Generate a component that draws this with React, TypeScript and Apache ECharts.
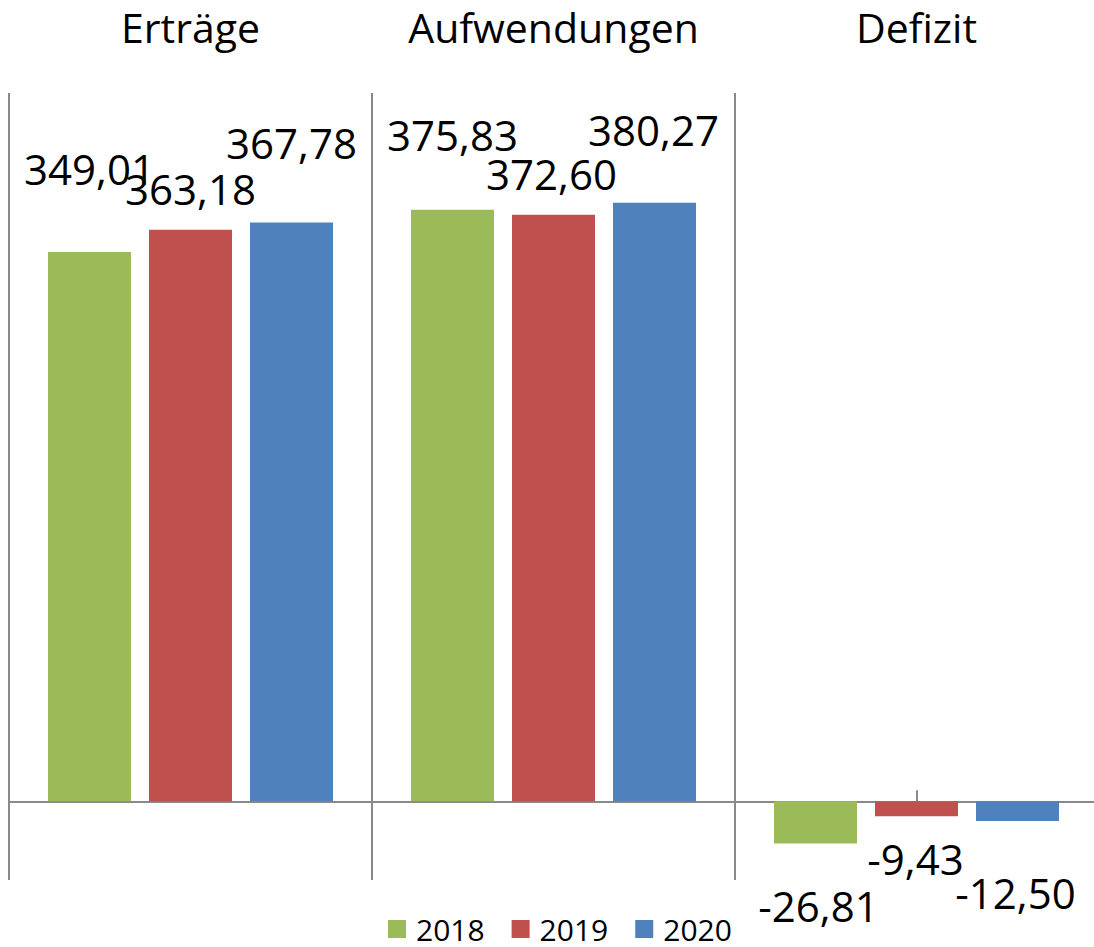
import React, { useEffect, useRef } from "react";
import * as echarts from "echarts";

const categories = ["Erträge", "Aufwendungen", "Defizit"];
const years = ["2018", "2019", "2020"];
const values2018 = [349.01, 375.83, -26.81];
const values2019 = [363.18, 372.6, -9.43];
const values2020 = [367.78, 380.27, -12.5];
const seriesValues = [values2018, values2019, values2020];
const colors = ["#9BBB59", "#C0504D", "#4F81BD"];
// manual label offsets [dx, dy] per series, per category
const labelOffsets = [
  [[0, -83], [0, -75], [3, 62]],
  [[0, -41], [-2, -41], [-1, 42]],
  [[0, -80], [-1, -73], [-2, 72]],
];

const FONT = "'Open Sans', 'Noto Sans', sans-serif";
const GRAY = "#898989";
// square legend marker with a blank strip on its right (extra gap before the text)
const LEGEND_ICON = "path://M0,0L18,0L18,18L0,18Z M23,0L23,0.01";

export default function App() {
  const ref = useRef<HTMLDivElement>(null);
  useEffect(() => {
    if (!ref.current) return;
    const chart = echarts.init(ref.current, undefined, { renderer: "svg" });
    const series = years.map((y, si) => ({
      name: y,
      type: "bar",
      xAxisIndex: 0,
      barWidth: 83,
      barGap: "21.7%",
      itemStyle: { color: colors[si] },
      emphasis: { disabled: true },
      label: {
        show: true,
        distance: 0,
        verticalAlign: "middle",
        align: "center",
        fontSize: 42,
        fontFamily: FONT,
        color: "#000",
        formatter: (p: any) => Number(p.value).toFixed(2).replace(".", ","),
      },
      data: seriesValues[si].map((v, ci) => ({
        value: v,
        label: {
          position: v < 0 ? "bottom" : "top",
          offset: labelOffsets[si][ci],
        },
      })),
    }));
    chart.setOption({
      animation: false,
      textStyle: { fontFamily: FONT },
      grid: { left: 9, top: 93, width: 1089, height: 787, outerBoundsMode: "none", containLabel: false },
      legend: {
        data: years,
        left: 388,
        top: 914,
        padding: 0,
        icon: LEGEND_ICON,
        itemWidth: 23,
        itemHeight: 18,
        itemGap: 27,
        selectedMode: false,
        textStyle: {
          fontSize: 30,
          fontFamily: FONT,
          color: "#000",
        },
      },
      xAxis: [
        {
          type: "category",
          data: categories,
          position: "bottom",
          axisLine: { show: true, onZero: true, lineStyle: { color: GRAY, width: 2 } },
          axisTick: { show: true, inside: true, length: 11, alignWithLabel: true, lineStyle: { color: GRAY, width: 2 } },
          axisLabel: { show: false },
          splitLine: { show: true, lineStyle: { color: GRAY, width: 2 } },
        },
        {
          type: "category",
          data: categories,
          position: "top",
          axisLine: { show: false },
          axisTick: { show: false },
          splitLine: { show: false },
          axisLabel: {
            show: true,
            interval: 0,
            hideOverlap: false,
            margin: 66,
            verticalAlign: "middle",
            fontSize: 41,
            fontFamily: FONT,
            color: "#000",
          },
        },
      ],
      yAxis: {
        type: "value",
        min: -50,
        max: 450,
        show: false,
        splitLine: { show: false },
      },
      series,
    });
    return () => chart.dispose();
  }, []);
  return (
    <div
      ref={ref}
      style={{ position: "absolute", left: 0, top: 0, width: 1094, height: 947, background: "#fff" }}
    />
  );
}
